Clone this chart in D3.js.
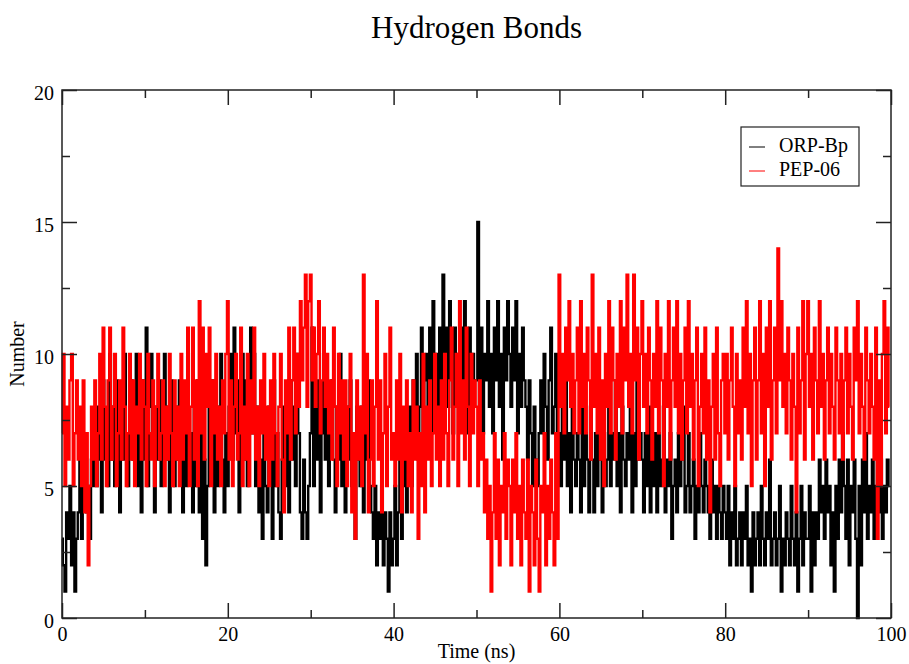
<!DOCTYPE html>
<html lang="en">
<head>
<meta charset="UTF-8">
<title>Hydrogen Bonds</title>
<script src="https://d3js.org/d3.v7.min.js"></script>
<style>
    body { margin: 0; background: #fff; }
    svg { font-family: "Liberation Serif", "Times New Roman", serif; }
</style>
</head>
<body>
<svg id="chart" width="909" height="664"></svg>
<script>
    const orpBp = [
        [3,2,1,4,3,5,2,4,1,3, 4,6,3,5,7,4,5,3,6,5, 7,5,8,6,4,9,6,7,5,10, 6,8,5,9,7,4,8,6,10,7, 5,8,9,6,7,10,5,8,4,9],
        [6,11,5,8,10,7,4,8,6,9, 5,7,10,6,8,4,9,7,5,8, 6,9,7,4,8,5,10,6,7,4, 8,5,9,4,7,3,6,2,5,8, 6,9,4,7,5,8,10,6,4,7],
        [5,8,10,6,11,7,9,4,8,10, 6,9,5,8,11,7,10,5,8,4, 6,3,7,5,4,8,6,3,9,5, 7,4,3,6,8,5,7,4,9,6, 8,5,10,7,4,3,6,4,3,5],
        [7,11,5,8,6,9,4,7,10,6, 8,5,7,9,6,4,8,6,10,5, 7,4,8,6,9,5,7,3,8,6, 5,8,4,7,6,9,5,4,3,5, 2,4,3,5,2,4,3,1,4,2],
        [3,5,2,4,6,3,5,7,4,6, 8,5,9,7,10,6,8,11,7,9, 10,8,11,7,12,9,10,8,11,9, 13,9,11,8,12,10,7,11,9,10, 8,11,9,12,10,7,11,8,10,9],
        [9,15,8,11,7,10,9,12,8,10, 7,11,9,12,8,10,6,11,9,12, 10,8,11,9,12,7,10,8,11,9, 8,6,9,7,5,8,6,5,7,9, 7,10,8,6,9,11,7,8,10,6],
        [7,5,8,6,9,5,7,4,8,6, 5,7,6,4,8,5,7,6,4,8, 6,4,7,5,8,6,4,7,5,6, 8,5,7,6,9,5,7,4,8,6, 5,7,6,8,4,7,5,9,6,7],
        [6,4,7,5,8,4,6,5,7,4, 7,5,6,8,4,6,5,7,3,5, 6,4,7,5,6,8,4,5,7,4, 5,6,3,5,4,7,5,4,6,5, 4,3,6,4,5,3,5,4,3,5],
        [4,3,5,2,4,3,5,2,3,4, 2,4,3,5,2,3,1,4,2,3, 4,2,5,3,2,4,3,6,2,3, 4,2,3,5,1,3,2,4,3,2, 5,3,2,4,1,3,5,2,4,3],
        [3,5,1,4,2,4,3,6,4,5, 3,6,4,5,2,4,1,5,3,6, 4,7,5,3,6,2,5,4,6,3, 0,5,2,6,4,7,3,5,4,6, 3,5,7,4,6,3,5,4,6,5]
    ];
    const pep06 = [
        [7,10,5,8,6,9,10,5,7,9, 6,8,5,9,4,7,2,5,8,6, 9,5,7,10,6,11,8,5,9,11, 6,8,10,5,7,9,6,11,8,5, 7,10,6,9,5,8,7,10,6,9],
        [8,5,10,7,6,9,5,8,10,6, 7,9,5,8,6,10,7,5,9,6, 8,5,10,6,9,7,11,5,8,11, 6,9,5,12,7,11,6,10,8,11, 5,9,7,10,6,8,5,9,7,10],
        [12,6,9,5,8,10,6,7,11,5, 8,6,10,5,9,7,11,6,8,5, 9,7,10,6,8,5,9,6,10,7, 5,8,10,6,4,9,7,11,6,9, 11,7,10,8,12,9,11,13,8,12],
        [13,9,11,8,10,12,7,9,11,8, 10,7,9,6,11,8,5,10,7,9, 6,9,5,8,10,4,7,3,9,6, 8,5,13,7,10,4,6,9,5,8, 12,6,9,4,7,10,5,8,11,6],
        [7,5,9,6,10,4,8,6,9,5, 7,4,9,6,8,3,7,5,10,4, 8,6,9,5,7,10,6,8,5,9, 6,10,7,5,9,11,6,8,10,5, 12,7,9,6,11,8,5,10,7,9],
        [8,5,9,6,7,4,6,3,5,1, 4,7,3,6,2,5,4,7,3,6, 5,2,6,4,7,3,5,2,6,4, 3,6,1,5,4,2,6,3,1,5, 4,7,2,5,3,6,4,2,7,3],
        [13,8,10,7,11,9,12,8,10,7, 9,11,7,12,8,10,7,11,9,6, 13,8,10,7,11,6,9,5,10,8, 12,7,11,9,6,10,8,12,7,11, 9,13,8,10,7,13,9,11,6,10],
        [12,8,10,7,11,9,6,10,8,12, 7,11,9,5,10,8,12,6,9,11, 8,12,7,10,6,9,11,7,12,8, 10,6,9,11,5,8,10,7,11,6, 9,4,8,10,6,11,7,5,9,10],
        [7,10,6,9,11,8,5,10,7,9, 6,11,8,12,7,10,5,9,11,6, 9,12,7,10,5,11,8,12,6,9, 11,7,14,9,12,8,10,7,11,9, 6,10,8,4,11,7,9,12,6,10],
        [12,8,10,6,11,9,7,12,8,10, 6,9,11,7,10,8,6,11,9,7, 10,6,9,11,7,10,8,6,11,9, 12,7,10,8,6,11,9,7,10,8, 6,11,3,9,5,10,12,7,11,8]
    ];
    const seriesNames = ["ORP-Bp", "PEP-06"];
    const seriesColors = ["#000000", "#ff0000"];
    const xMajor = [0, 20, 40, 60, 80, 100];
    const xMinor = [10, 30, 50, 70, 90];
    const yMajor = [0, 5, 10, 15, 20];
    const yMinor = [2.5, 7.5, 12.5, 17.5];

    // Turn the 10 ns blocks into {t, n} points.
    function toPoints(blocks) {
        return blocks.flatMap((block, b) =>
            block.map((n, i) => ({t: b * 10 + i * 10 / block.length, n: n})));
    }

    const svg = d3.select("#chart");
    const margin = {left: 62, right: 18, top: 90, bottom: 46};
    const width = 909, height = 664;

    const x = d3.scaleLinear().domain([0, 100]).range([margin.left, width - margin.right]);
    const y = d3.scaleLinear().domain([0, 20]).range([height - margin.bottom, margin.top]);

    // Step curve so the jumps are vertical strokes, as in the dense original trace.
    const line = d3.line().curve(d3.curveStep).x(d => x(d.t)).y(d => y(d.n));

    // Data lines, black first, red on top.
    [orpBp, pep06].forEach((blocks, k) => {
        svg.append("path")
            .datum(toPoints(blocks))
            .attr("fill", "none")
            .attr("stroke", seriesColors[k])
            .attr("stroke-width", 2.4)
            .attr("d", line);
    });

    const yBottom = y(0), yTop = y(20), xLeft = x(0), xRight = x(100);

    // Frame.
    svg.append("rect")
        .attr("x", xLeft).attr("y", yTop)
        .attr("width", xRight - xLeft).attr("height", yBottom - yTop)
        .attr("fill", "none").attr("stroke", "#222").attr("stroke-width", 1.5);

    // Ticks on all four sides, pointing inward.
    function styleAxis(g) {
        g.attr("font-family", null).attr("font-size", null).attr("color", "#222");
        g.select(".domain").remove();
        g.selectAll(".tick line").attr("stroke-width", 1.5);
        g.selectAll(".tick text").attr("font-size", "20px").attr("fill", "#000");
    }

    svg.append("g").attr("transform", `translate(0,${yBottom})`)
        .call(d3.axisBottom(x).tickValues(xMajor).tickSize(-15).tickPadding(9).tickFormat(d3.format("d")))
        .call(styleAxis);
    svg.append("g").attr("transform", `translate(0,${yBottom})`)
        .call(d3.axisBottom(x).tickValues(xMinor).tickSize(-8).tickFormat(""))
        .call(styleAxis);
    svg.append("g").attr("transform", `translate(0,${yTop})`)
        .call(d3.axisTop(x).tickValues(xMajor).tickSize(-15).tickFormat(""))
        .call(styleAxis);
    svg.append("g").attr("transform", `translate(0,${yTop})`)
        .call(d3.axisTop(x).tickValues(xMinor).tickSize(-8).tickFormat(""))
        .call(styleAxis);

    svg.append("g").attr("transform", `translate(${xLeft},0)`)
        .call(d3.axisLeft(y).tickValues(yMajor).tickSize(-15).tickPadding(8).tickFormat(d3.format("d")))
        .call(styleAxis)
        .call(g => g.selectAll(".tick text").attr("dy", "0.47em"));
    svg.append("g").attr("transform", `translate(${xLeft},0)`)
        .call(d3.axisLeft(y).tickValues(yMinor).tickSize(-8).tickFormat(""))
        .call(styleAxis);
    svg.append("g").attr("transform", `translate(${xRight},0)`)
        .call(d3.axisRight(y).tickValues(yMajor).tickSize(-15).tickFormat(""))
        .call(styleAxis);
    svg.append("g").attr("transform", `translate(${xRight},0)`)
        .call(d3.axisRight(y).tickValues(yMinor).tickSize(-8).tickFormat(""))
        .call(styleAxis);

    // Title and axis labels.
    svg.append("text")
        .attr("x", (xLeft + xRight) / 2).attr("y", 38)
        .attr("text-anchor", "middle").attr("font-size", "31px")
        .text("Hydrogen Bonds");
    svg.append("text")
        .attr("x", (xLeft + xRight) / 2).attr("y", 658)
        .attr("text-anchor", "middle").attr("font-size", "20px")
        .text("Time (ns)");
    svg.append("text")
        .attr("transform", `translate(24,${(yTop + yBottom) / 2}) rotate(-90)`)
        .attr("text-anchor", "middle").attr("font-size", "20px")
        .text("Number");

    // Legend.
    const legend = svg.append("g");
    legend.append("rect")
        .attr("x", 741).attr("y", 127).attr("width", 118).attr("height", 59)
        .attr("fill", "#fff").attr("stroke", "#222").attr("stroke-width", 1.2);
    seriesNames.forEach((name, k) => {
        const ly = 147 + k * 24;
        legend.append("line")
            .attr("x1", 749).attr("x2", 765).attr("y1", ly).attr("y2", ly)
            .attr("stroke", seriesColors[k]).attr("stroke-width", 1);
        legend.append("text")
            .attr("x", 779).attr("y", ly + 5)
            .attr("font-size", "20px")
            .text(name);
    });
</script>
</body>
</html>
